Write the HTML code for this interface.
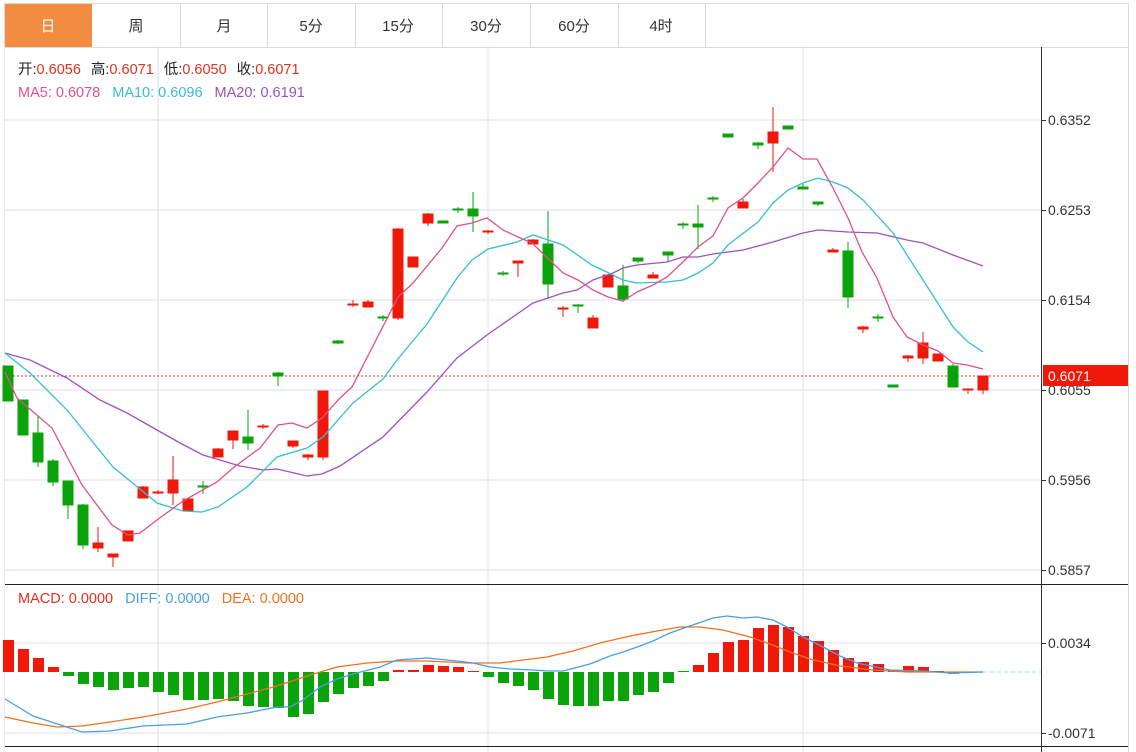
<!DOCTYPE html>
<html><head><meta charset="utf-8"><style>
html,body{margin:0;padding:0;background:#fff;}
svg{display:block;font-family:"Liberation Sans","Noto Sans CJK SC",sans-serif;}
</style></head><body>
<svg width="1136" height="752" viewBox="0 0 1136 752" xmlns="http://www.w3.org/2000/svg">
<rect width="1136" height="752" fill="#fff"/>
<!-- tabs -->
<rect x="4.5" y="3.5" width="1124" height="44" fill="#fff" stroke="#dcdcdc"/>
<rect x="5" y="4" width="87" height="43" fill="#f28c40"/>
<g stroke="#dcdcdc"><line x1="180.5" y1="4" x2="180.5" y2="47"/><line x1="267.5" y1="4" x2="267.5" y2="47"/><line x1="355.5" y1="4" x2="355.5" y2="47"/><line x1="442.5" y1="4" x2="442.5" y2="47"/><line x1="530.5" y1="4" x2="530.5" y2="47"/><line x1="618.5" y1="4" x2="618.5" y2="47"/><line x1="705.5" y1="4" x2="705.5" y2="47"/></g>
<g font-size="15" text-anchor="middle" fill="#333"><text x="48" y="31" fill="#fff">日</text><text x="136" y="31">周</text><text x="224" y="31">月</text><text x="311" y="31">5分</text><text x="398" y="31">15分</text><text x="486" y="31">30分</text><text x="574" y="31">60分</text><text x="661" y="31">4时</text></g>
<line x1="1128.5" y1="47" x2="1128.5" y2="752" stroke="#dcdcdc"/>
<line x1="4.5" y1="47" x2="4.5" y2="752" stroke="#e6ebf0"/>
<!-- grid -->
<g stroke="#e6ecf2" stroke-width="1.5">
<line x1="5" y1="120" x2="1041" y2="120"/><line x1="5" y1="210" x2="1041" y2="210"/><line x1="5" y1="300" x2="1041" y2="300"/><line x1="5" y1="390" x2="1041" y2="390"/><line x1="5" y1="480" x2="1041" y2="480"/><line x1="5" y1="570" x2="1041" y2="570"/>
<line x1="5" y1="643" x2="1041" y2="643"/><line x1="5" y1="733" x2="1041" y2="733"/>
<line x1="158" y1="47" x2="158" y2="752"/><line x1="488" y1="47" x2="488" y2="752"/><line x1="803" y1="47" x2="803" y2="752"/>
</g>
<!-- axes -->
<line x1="1041.5" y1="47" x2="1041.5" y2="752" stroke="#333"/>
<line x1="5" y1="584.5" x2="1128" y2="584.5" stroke="#222"/>
<line x1="5" y1="746.5" x2="1128" y2="746.5" stroke="#222"/>
<g stroke="#333"><line x1="1041" y1="120.5" x2="1046" y2="120.5"/><line x1="1041" y1="210.5" x2="1046" y2="210.5"/><line x1="1041" y1="300.5" x2="1046" y2="300.5"/><line x1="1041" y1="390.5" x2="1046" y2="390.5"/><line x1="1041" y1="480.5" x2="1046" y2="480.5"/><line x1="1041" y1="570.5" x2="1046" y2="570.5"/><line x1="1041" y1="643.5" x2="1046" y2="643.5"/><line x1="1041" y1="733.5" x2="1046" y2="733.5"/></g>
<g font-size="14" fill="#333"><text x="1048" y="125">0.6352</text><text x="1048" y="215">0.6253</text><text x="1048" y="305">0.6154</text><text x="1048" y="395">0.6055</text><text x="1048" y="485">0.5956</text><text x="1048" y="575">0.5857</text><text x="1048" y="648">0.0034</text><text x="1048" y="738">-0.0071</text></g>
<!-- price line -->
<line x1="5" y1="376" x2="1041" y2="376" stroke="#e03030" stroke-dasharray="2,2"/>
<rect x="1043" y="365" width="85" height="21" fill="#f01808"/>
<text x="1048" y="381" font-size="14" fill="#fff">0.6071</text>
<!-- legend -->
<g font-size="14.5">
<text x="18" y="74"><tspan fill="#222">开:</tspan><tspan fill="#e03020">0.6056</tspan><tspan fill="#222" dx="10">高:</tspan><tspan fill="#e03020">0.6071</tspan><tspan fill="#222" dx="10">低:</tspan><tspan fill="#e03020">0.6050</tspan><tspan fill="#222" dx="10">收:</tspan><tspan fill="#e03020">0.6071</tspan></text>
<text x="18" y="97"><tspan fill="#e0508a">MA5: 0.6078</tspan><tspan fill="#36bed0" dx="12">MA10: 0.6096</tspan><tspan fill="#a050c0" dx="12">MA20: 0.6191</tspan></text>
<text x="18" y="603"><tspan fill="#e03020">MACD: 0.0000</tspan><tspan fill="#4a9ee0" dx="12">DIFF: 0.0000</tspan><tspan fill="#f07020" dx="12">DEA: 0.0000</tspan></text>
</g>
<!-- candles -->
<g id="c">
<g fill="#0aa30a" stroke="#0aa30a">
<line x1="8" y1="366" x2="8" y2="401"/><rect x="3" y="366" width="10" height="35"/>
<line x1="23" y1="400" x2="23" y2="435"/><rect x="18" y="400" width="10" height="35"/>
<line x1="38" y1="416" x2="38" y2="467"/><rect x="33" y="433" width="10" height="29"/>
<line x1="53" y1="459" x2="53" y2="486"/><rect x="48" y="461" width="10" height="21"/>
<line x1="68" y1="481" x2="68" y2="519"/><rect x="63" y="481" width="10" height="24"/>
<line x1="83" y1="504" x2="83" y2="549"/><rect x="78" y="505" width="10" height="40"/>
<line x1="203" y1="481" x2="203" y2="494"/><rect x="198" y="486" width="10" height="1"/>
<line x1="248" y1="410" x2="248" y2="450"/><rect x="243" y="437" width="10" height="6"/>
<line x1="278" y1="372" x2="278" y2="386"/><rect x="273" y="373" width="10" height="3"/>
<line x1="338" y1="340" x2="338" y2="344"/><rect x="333" y="341" width="10" height="2"/>
<line x1="383" y1="315" x2="383" y2="321"/><rect x="378" y="317" width="10" height="1"/>
<rect x="438" y="221" width="10" height="2"/>
<line x1="458" y1="207" x2="458" y2="213"/><rect x="453" y="209" width="10" height="1"/>
<line x1="473" y1="192" x2="473" y2="232"/><rect x="468" y="209" width="10" height="7"/>
<line x1="503" y1="271" x2="503" y2="276"/><rect x="498" y="273" width="10" height="1"/>
<line x1="548" y1="211" x2="548" y2="299"/><rect x="543" y="244" width="10" height="40"/>
<line x1="578" y1="304" x2="578" y2="313"/><rect x="573" y="305" width="10" height="1"/>
<line x1="623" y1="265" x2="623" y2="302"/><rect x="618" y="286" width="10" height="13"/>
<line x1="638" y1="258" x2="638" y2="263"/><rect x="633" y="258" width="10" height="3"/>
<line x1="668" y1="252" x2="668" y2="262"/><rect x="663" y="252" width="10" height="3"/>
<line x1="683" y1="222" x2="683" y2="229"/><rect x="678" y="224" width="10" height="1"/>
<line x1="698" y1="205" x2="698" y2="249"/><rect x="693" y="224" width="10" height="3"/>
<line x1="713" y1="196" x2="713" y2="202"/><rect x="708" y="198" width="10" height="1"/>
<rect x="723" y="134" width="10" height="3"/>
<line x1="758" y1="142" x2="758" y2="149"/><rect x="753" y="143" width="10" height="2"/>
<rect x="783" y="126" width="10" height="3"/>
<line x1="803" y1="184" x2="803" y2="189"/><rect x="798" y="187" width="10" height="2"/>
<line x1="818" y1="202" x2="818" y2="206"/><rect x="813" y="202" width="10" height="2"/>
<line x1="848" y1="242" x2="848" y2="308"/><rect x="843" y="251" width="10" height="46"/>
<line x1="878" y1="314" x2="878" y2="322"/><rect x="873" y="317" width="10" height="1"/>
<rect x="888" y="385" width="10" height="2"/>
<line x1="953" y1="364" x2="953" y2="387"/><rect x="948" y="366" width="10" height="21"/>
</g>
<g fill="#f01808" stroke="#f01808">
<line x1="98" y1="527" x2="98" y2="552"/><rect x="93" y="543" width="10" height="5"/>
<line x1="113" y1="554" x2="113" y2="567"/><rect x="108" y="554" width="10" height="3"/>
<rect x="123" y="531" width="10" height="10"/>
<line x1="143" y1="486" x2="143" y2="498"/><rect x="138" y="487" width="10" height="11"/>
<line x1="158" y1="490" x2="158" y2="494"/><rect x="153" y="492" width="10" height="1"/>
<line x1="173" y1="456" x2="173" y2="505"/><rect x="168" y="480" width="10" height="13"/>
<rect x="183" y="499" width="10" height="12"/>
<line x1="218" y1="448" x2="218" y2="457"/><rect x="213" y="449" width="10" height="8"/>
<line x1="233" y1="431" x2="233" y2="449"/><rect x="228" y="431" width="10" height="9"/>
<line x1="263" y1="424" x2="263" y2="429"/><rect x="258" y="426" width="10" height="1"/>
<line x1="293" y1="441" x2="293" y2="448"/><rect x="288" y="441" width="10" height="5"/>
<line x1="308" y1="454" x2="308" y2="460"/><rect x="303" y="455" width="10" height="2"/>
<line x1="323" y1="391" x2="323" y2="460"/><rect x="318" y="391" width="10" height="66"/>
<line x1="353" y1="300" x2="353" y2="307"/><rect x="348" y="304" width="10" height="1"/>
<line x1="368" y1="300" x2="368" y2="307"/><rect x="363" y="302" width="10" height="5"/>
<line x1="398" y1="228" x2="398" y2="320"/><rect x="393" y="229" width="10" height="89"/>
<rect x="408" y="257" width="10" height="10"/>
<line x1="428" y1="213" x2="428" y2="226"/><rect x="423" y="214" width="10" height="9"/>
<line x1="488" y1="230" x2="488" y2="234"/><rect x="483" y="231" width="10" height="1"/>
<line x1="518" y1="261" x2="518" y2="277"/><rect x="513" y="261" width="10" height="2"/>
<line x1="533" y1="239" x2="533" y2="244"/><rect x="528" y="240" width="10" height="4"/>
<line x1="563" y1="306" x2="563" y2="317"/><rect x="558" y="308" width="10" height="1"/>
<line x1="593" y1="315" x2="593" y2="328"/><rect x="588" y="318" width="10" height="10"/>
<rect x="603" y="275" width="10" height="12"/>
<line x1="653" y1="272" x2="653" y2="278"/><rect x="648" y="275" width="10" height="3"/>
<line x1="743" y1="199" x2="743" y2="208"/><rect x="738" y="202" width="10" height="6"/>
<line x1="773" y1="107" x2="773" y2="172"/><rect x="768" y="132" width="10" height="11"/>
<line x1="833" y1="248" x2="833" y2="252"/><rect x="828" y="250" width="10" height="2"/>
<line x1="863" y1="326" x2="863" y2="333"/><rect x="858" y="327" width="10" height="2"/>
<line x1="908" y1="355" x2="908" y2="362"/><rect x="903" y="356" width="10" height="2"/>
<line x1="923" y1="332" x2="923" y2="364"/><rect x="918" y="343" width="10" height="15"/>
<rect x="933" y="354" width="10" height="7"/>
<line x1="968" y1="389" x2="968" y2="394"/><rect x="963" y="389" width="10" height="1"/>
<line x1="983" y1="376" x2="983" y2="394"/><rect x="978" y="376" width="10" height="14"/>
</g>
</g>
<!-- MAs -->
<g fill="none" stroke-width="1.3">
<polyline stroke="#a050c0" points="5,353 30,360 67,378 100,400 127,413 157,430 180,443 203,455 240,466 263,470 277,469 307,476 322,474 340,466 383,437 427,392 457,358 487,335 533,303 563,293 577,290 593,280 613,273 623,268 637,265 667,262 683,257 698,257 713,254 743,250 773,242 803,233 818,230 848,232 877,233 907,240 923,243 953,255 983,266"/>
<polyline stroke="#36bed0" points="5,353 30,373 67,410 113,467 157,503 183,511 202,512 218,507 247,487 277,457 307,448 323,437 353,403 383,379 397,360 427,324 457,278 472,260 488,249 517,242 533,235 563,245 592,265 613,275 623,280 637,283 667,282 683,280 698,273 713,263 728,245 758,222 773,203 788,190 803,183 818,178 833,182 848,188 863,200 893,233 923,280 953,327 968,342 983,352"/>
<polyline stroke="#e0508a" points="5,372 17,398 52,428 82,485 112,525 128,535 140,533 157,520 183,501 217,482 233,468 260,448 278,425 292,423 307,428 322,418 340,398 352,387 398,297 413,283 442,248 457,226 472,223 487,218 503,230 518,237 532,243 563,273 578,280 593,290 608,297 623,301 637,292 653,285 667,277 683,262 698,247 713,236 728,208 743,198 758,183 773,167 788,148 803,159 817,159 833,188 848,218 862,252 877,278 893,317 907,337 923,345 938,351 953,363 967,365 983,369"/>
</g>
<!-- MACD bars -->
<g fill="#f01808">
<rect x="3" y="640" width="11" height="32"/><rect x="18" y="649" width="11" height="23"/><rect x="33" y="658" width="11" height="14"/><rect x="48" y="667" width="11" height="5"/>
<rect x="393" y="670" width="11" height="2"/><rect x="408" y="670" width="11" height="2"/><rect x="423" y="665" width="11" height="7"/><rect x="438" y="666" width="11" height="6"/><rect x="453" y="667" width="11" height="5"/><rect x="468" y="671" width="11" height="1"/>
<rect x="693" y="665" width="11" height="7"/><rect x="708" y="653" width="11" height="19"/><rect x="723" y="642" width="11" height="30"/><rect x="738" y="640" width="11" height="32"/><rect x="753" y="628" width="11" height="44"/><rect x="768" y="625" width="11" height="47"/><rect x="783" y="627" width="11" height="45"/><rect x="798" y="636" width="11" height="36"/><rect x="813" y="641" width="11" height="31"/><rect x="828" y="650" width="11" height="22"/><rect x="843" y="658" width="11" height="14"/><rect x="858" y="662" width="11" height="10"/><rect x="873" y="664" width="11" height="8"/><rect x="888" y="670" width="11" height="2"/><rect x="903" y="666" width="11" height="6"/><rect x="918" y="667" width="11" height="5"/><rect x="933" y="671" width="11" height="1"/>
</g>
<g fill="#0aa30a">
<rect x="63" y="672" width="11" height="4"/><rect x="78" y="672" width="11" height="12"/><rect x="93" y="672" width="11" height="15"/><rect x="108" y="672" width="11" height="18"/><rect x="123" y="672" width="11" height="16"/><rect x="138" y="672" width="11" height="15"/><rect x="153" y="672" width="11" height="20"/><rect x="168" y="672" width="11" height="23"/><rect x="183" y="672" width="11" height="28"/><rect x="198" y="672" width="11" height="28"/><rect x="213" y="672" width="11" height="27"/><rect x="228" y="672" width="11" height="29"/><rect x="243" y="672" width="11" height="34"/><rect x="258" y="672" width="11" height="35"/><rect x="273" y="672" width="11" height="36"/><rect x="288" y="672" width="11" height="45"/><rect x="303" y="672" width="11" height="42"/><rect x="318" y="672" width="11" height="30"/><rect x="333" y="672" width="11" height="22"/><rect x="348" y="672" width="11" height="16"/><rect x="363" y="672" width="11" height="14"/><rect x="378" y="672" width="11" height="9"/>
<rect x="483" y="672" width="11" height="5"/><rect x="498" y="672" width="11" height="11"/><rect x="513" y="672" width="11" height="14"/><rect x="528" y="672" width="11" height="18"/><rect x="543" y="672" width="11" height="27"/><rect x="558" y="672" width="11" height="33"/><rect x="573" y="672" width="11" height="34"/><rect x="588" y="672" width="11" height="34"/><rect x="603" y="672" width="11" height="29"/><rect x="618" y="672" width="11" height="29"/><rect x="633" y="672" width="11" height="23"/><rect x="648" y="672" width="11" height="20"/><rect x="663" y="672" width="11" height="11"/><rect x="678" y="671" width="11" height="1"/>
<rect x="948" y="672" width="11" height="2" fill="#888"/><rect x="963" y="672" width="11" height="1" fill="#888"/>
</g>
<line x1="983" y1="672" x2="1041" y2="672" stroke="#a8d4e8" stroke-dasharray="4,3"/>
<g fill="none" stroke-width="1.3">
<polyline stroke="#f07020" points="5,717 33,723 57,727 82,726 110,722 143,717 187,709 217,702 247,694 277,686 307,676 337,667 367,663 397,661 427,661 467,663 500,663 523,660 547,657 573,651 600,643 630,636 657,631 680,627 700,627 723,630 750,637 770,644 790,652 810,659 840,666 873,670 907,672 983,672"/>
<polyline stroke="#4a9ee0" points="5,699 33,716 82,732 110,731 143,726 187,724 217,717 247,713 277,707 290,707 303,700 320,687 337,679 353,674 380,667 397,660 427,658 457,661 473,663 490,667 510,669 533,670 548,671 563,671 590,664 610,656 623,652 640,646 653,641 670,633 687,627 713,618 727,616 743,618 757,617 773,620 787,627 803,637 823,647 840,656 857,663 890,670 923,671 950,673 983,672"/>
</g>
</svg>
</body></html>
